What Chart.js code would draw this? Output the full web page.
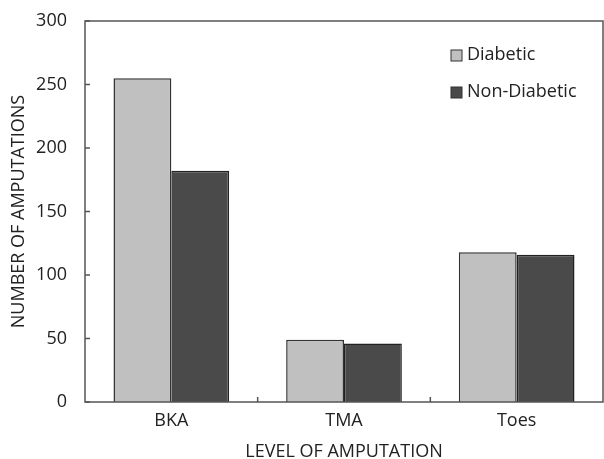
<!DOCTYPE html>
<html>
<head>
<meta charset="utf-8">
<script src="https://cdn.jsdelivr.net/npm/chart.js@4"></script>
<style>
  html, body { margin: 0; padding: 0; background: #fff; }
  #wrap { width: 604px; height: 459px; }
</style>
</head>
<body>
<div id="wrap"><canvas id="chart" width="604" height="459"></canvas></div>
<script>
// data
const levels = ['BKA', 'TMA', 'Toes'];
const diabetic = [255, 49, 118];
const nonDiabetic = [182, 46, 116];
const yTicks = [0, 50, 100, 150, 200, 250, 300];

const FONT = "'Open Sans', sans-serif";
const FRAME = '#555';

// frame round the plot, inward tick marks, legend inside the plot
const framePlugin = {
    id: 'frame',
    afterDraw(chart) {
        const ctx = chart.ctx;
        const a = chart.chartArea;
        const x = chart.scales.x;
        const y = chart.scales.y;
        ctx.save();
        ctx.strokeStyle = FRAME;
        ctx.lineWidth = 1.5;
        ctx.strokeRect(a.left, a.top, a.right - a.left, a.bottom - a.top);

        ctx.beginPath();
        yTicks.forEach(v => {
            const py = y.getPixelForValue(v);
            ctx.moveTo(a.left, py);
            ctx.lineTo(a.left + 5, py);
        });
        // ticks between categories
        for (let i = 1; i < levels.length; i++) {
            const px = (x.getPixelForValue(i - 1) + x.getPixelForValue(i)) / 2;
            ctx.moveTo(px, a.bottom);
            ctx.lineTo(px, a.bottom - 5);
        }
        ctx.stroke();

        // legend
        const items = chart.data.datasets;
        ctx.font = "18px " + FONT;
        ctx.textBaseline = 'middle';
        items.forEach((ds, i) => {
            const cy = 55 + i * 37;
            ctx.fillStyle = ds.backgroundColor;
            ctx.fillRect(451, cy - 5, 11, 11);
            ctx.strokeStyle = '#333';
            ctx.lineWidth = 1;
            ctx.strokeRect(451, cy - 5, 11, 11);
            ctx.fillStyle = '#222';
            ctx.fillText(ds.label, 467, cy);
        });
        ctx.restore();
    }
};

new Chart(document.getElementById('chart'), {
    type: 'bar',
    data: {
        labels: levels,
        datasets: [
            { label: 'Diabetic', data: diabetic, backgroundColor: '#c0c0c0', borderColor: '#333', borderWidth: 1.5 },
            { label: 'Non-Diabetic', data: nonDiabetic, backgroundColor: '#4a4a4a', borderColor: '#222', borderWidth: 1.5 }
        ]
    },
    options: {
        responsive: false,
        animation: false,
        layout: { padding: { top: 21, right: 1, left: 0, bottom: 0 } },
        plugins: { legend: { display: false }, tooltip: { enabled: false } },
        datasets: { bar: { categoryPercentage: 0.67, barPercentage: 1 } },
        scales: {
            x: {
                grid: { display: false, drawTicks: false },
                border: { display: false },
                ticks: { color: '#222', font: { family: FONT, size: 18 }, padding: 8 },
                title: {
                    display: true, text: 'LEVEL OF AMPUTATION', color: '#222',
                    font: { family: FONT, size: 18, lineHeight: 1 }, padding: { top: 0, bottom: -2 }
                },
                afterFit: s => { s.height = 57; s.paddingLeft = 0; s.paddingRight = 0; }
            },
            y: {
                min: 0, max: 300,
                grid: { display: false, drawTicks: false },
                border: { display: false },
                afterBuildTicks: s => { s.ticks = yTicks.map(v => ({ value: v })); },
                ticks: { color: '#222', font: { family: FONT, size: 18 }, padding: 18 },
                title: {
                    display: true, text: 'NUMBER OF AMPUTATIONS', color: '#222',
                    font: { family: FONT, size: 18, lineHeight: 1 }, padding: { top: 10, bottom: 10 }
                },
                afterFit: s => { s.width = 85; s.paddingTop = 0; s.paddingBottom = 0; }
            }
        }
    },
    plugins: [framePlugin]
});
</script>
</body>
</html>
